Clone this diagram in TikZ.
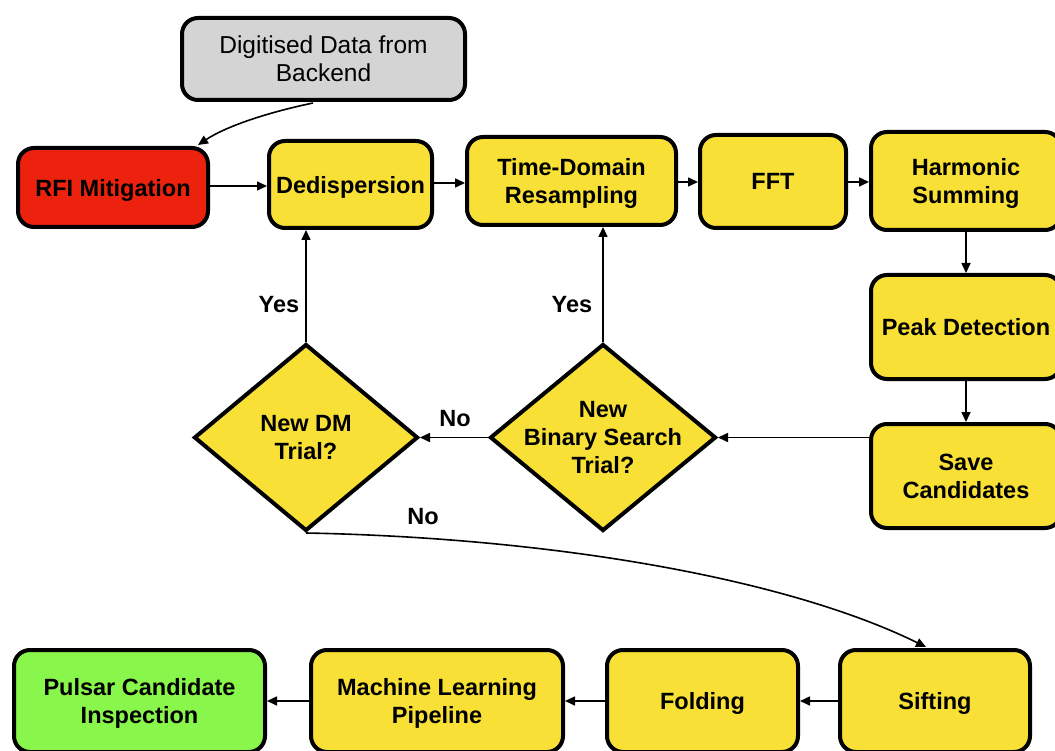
\documentclass[tikz,border=0pt]{standalone}
\usepackage{fontspec}
\setmainfont{Liberation Sans}
\usetikzlibrary{shapes.geometric,arrows.meta}
\definecolor{boxyellow}{RGB}{248,224,54}
\definecolor{boxred}{RGB}{236,34,14}
\definecolor{boxgray}{RGB}{212,212,212}
\definecolor{boxgreen}{RGB}{136,246,74}
\begin{document}
\begin{tikzpicture}[x=1pt,y=-1pt,
  box/.style={draw=black, line width=4pt, rounded corners=16pt, fill=boxyellow,
    align=center, inner sep=0pt, text depth=0pt, font=\fontsize{23.5}{28}\selectfont\bfseries},
  decision/.style={diamond, draw=black, line width=4pt, fill=boxyellow, inner sep=0pt},
  dtext/.style={align=center, inner sep=0pt, font=\fontsize{23.5}{28}\selectfont\bfseries},
  lbl/.style={font=\fontsize{23.5}{26}\selectfont\bfseries, inner sep=0pt},
  conn/.style={line width=1.6pt, -{Triangle[length=10pt,width=9pt]}}
]
\clip (0,0) rectangle (1055,751);
\fill[white] (0,0) rectangle (1055,751);

\node[box, fill=boxgray, minimum width=283, minimum height=82, font=\fontsize{24.5}{28}\selectfont] (data) at (323.5,59) {Digitised Data from\\Backend};
\node[box, fill=boxred, minimum width=190, minimum height=79] (rfi) at (113,187.5) {RFI Mitigation};
\node[box, minimum width=163, minimum height=87] (dedisp) at (350.5,184.5) {Dedispersion};
\node[box, minimum width=209, minimum height=88] (tdr) at (571.5,181) {Time-Domain\\Resampling};
\node[box, minimum width=146, minimum height=93] (fft) at (773,181.5) {FFT};
\node[box, minimum width=190, minimum height=98] (harm) at (966,181) {Harmonic\\Summing};
\node[box, minimum width=190, minimum height=104] (peak) at (966,327) {Peak Detection};
\node[box, minimum width=190, minimum height=104] (save) at (966,476) {Save\\Candidates};

\node[decision, minimum width=226, minimum height=187,
  label={[dtext]center:New\\Binary Search\\Trial?}] (bin) at (603,437.5) {};
\node[decision, minimum width=224, minimum height=187,
  label={[dtext]center:New DM\\Trial?}] (dm) at (306,437.5) {};

\node[box, minimum width=190, minimum height=102] (sift) at (935,701) {Sifting};
\node[box, minimum width=191, minimum height=102] (fold) at (702.5,701) {Folding};
\node[box, minimum width=252, minimum height=102] (ml) at (437,701) {Machine Learning\\Pipeline};
\node[box, fill=boxgreen, minimum width=251, minimum height=102] (psr) at (139.5,701) {Pulsar Candidate\\Inspection};

% connectors
\coordinate (dataout) at (313,103);
\coordinate (rfiin) at (198,145);
\draw[conn] (dataout) .. controls (265,113) and (225,127) .. (rfiin);
\draw[conn] (rfi.east |- 0,186) -- (dedisp.west |- 0,186);
\draw[conn] (dedisp.east |- 0,183) -- (tdr.west |- 0,183);
\draw[conn] (tdr.east |- 0,182) -- (fft.west |- 0,182);
\draw[conn] (fft.east |- 0,182) -- (harm.west |- 0,182);
\draw[conn] (harm.south) -- (peak.north);
\draw[conn] (peak.south) -- (save.north);
\draw[conn] (save.west |- bin.east) -- (bin.east);
\draw[conn] (bin.west) -- (dm.east);
\draw[conn] (bin.north) -- (bin.north |- tdr.south);
\draw[conn] (dm.north) -- (dm.north |- dedisp.south);
\coordinate (siftin) at (926,647);
\draw[conn] (dm.south) .. controls (560,538) and (790,580) .. (siftin);
\draw[conn] (sift.west) -- (fold.east);
\draw[conn] (fold.west) -- (ml.east);
\draw[conn] (ml.west) -- (psr.east);

% labels
\node[lbl] (no1) at (455,419) {No};
\node[lbl] (yes1) at (572,305) {Yes};
\node[lbl] (yes2) at (279,305) {Yes};
\node[lbl] (no2) at (423,517) {No};
\end{tikzpicture}
\end{document}
